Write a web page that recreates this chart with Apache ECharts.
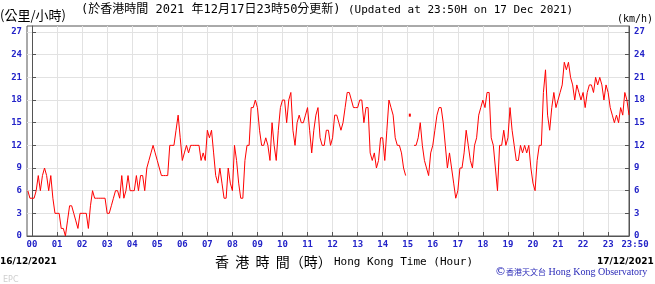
<!DOCTYPE html>
<html><head><meta charset="utf-8">
<script src="https://cdn.jsdelivr.net/npm/echarts@6/dist/echarts.min.js"></script>
<style>html,body{margin:0;padding:0;background:#fff}#c{width:655px;height:284px}</style>
</head><body><div id="c"></div>
<script>
// 5-minute wind speed readings (km/h), starting at 23:50 on 16 Dec
const startMinute = -10;
const stepMinutes = 5;
const hPrev = [6, 5];
const h00 = [5,5,6,8,6,8,9,8,6,8,5,3];
const h01 = [3,3,1,1,0,2,4,4,3,2,1,3];
const h02 = [3,3,3,1,4,6,5,5,5,5,5,5];
const h03 = [3,3,4,5,6,6,5,8,5,6,8,6];
const h04 = [6,6,8,6,8,8,6,9,10,11,12,11];
const h05 = [10,9,8,8,8,8,12,12,12,14,16,13];
const h06 = [10,11,12,11,12,12,12,12,12,10,11,10];
const h07 = [14,13,14,11,8,7,9,7,5,5,9,7];
const h08 = [6,12,10,7,5,5,10,12,12,17,17,18];
const h09 = [17,14,12,12,13,12,10,15,12,10,14,17];
const h10 = [18,18,15,18,19,14,12,15,16,15,15,16];
const h11 = [17,14,11,14,16,17,13,12,12,14,14,12];
const h12 = [13,16,16,15,14,15,17,19,19,18,17,17];
const h13 = [17,18,18,15,17,17,11,10,11,9,10,13];
const h14 = [13,10,14,18,17,16,13,12,12,11,9,8];
const h15 = [null,16,null,12,12,13,15,12,10,9,8,11];
const h16 = [12,14,16,17,17,15,12,9,11,9,7,5];
const h17 = [6,9,9,11,14,12,10,9,12,13,16,17];
const h18 = [18,17,19,19,13,12,9,6,12,12,14,12];
const h19 = [13,17,14,12,10,10,12,11,12,11,12,9];
const h20 = [7,6,10,12,12,19,22,16,14,17,19,17];
const h21 = [18,19,20,23,22,23,21,20,18,20,19,18];
const h22 = [19,17,19,20,20,19,21,20,21,20,18,20];
const h23 = [19,17,16,15,16,15,17,16,19,18,16];

const tickHours = [0,1,2,3,4,5,6,7,8,9,10,11,12,13,14,15,16,17,18,19,20,21,22,23,23+50/60];
const tickLabels = ['00','01','02','03','04','05','06','07','08','09','10','11','12','13','14','15','16','17','18','19','20','21','22','23','23:50'];
const yTicks = [0,3,6,9,12,15,18,21,24,27];

const speeds = [].concat(hPrev,h00,h01,h02,h03,h04,h05,h06,h07,h08,h09,h10,h11,h12,h13,h14,h15,h16,h17,h18,h19,h20,h21,h22,h23);
const seriesData = speeds.map((v, i) => {
  const h = (startMinute + i * stepMinutes) / 60;
  const prev = i > 0 ? speeds[i-1] : null;
  const next = i < speeds.length - 1 ? speeds[i+1] : null;
  if (v != null && prev == null && next == null && i > 0) {
    return {value: [h, v], symbol: 'rect', symbolSize: [2, 3], itemStyle: {color: '#ff0000'}};
  }
  return [h, v];
});

const BLUE = '#2323c8';
const AX = '#555';
const labelFor = v => {
  for (let k = 0; k < tickHours.length; k++) {
    if (Math.abs(tickHours[k] - v) < 1e-4) {
      return k === tickHours.length - 1 ? '{last|' + tickLabels[k] + '}' : tickLabels[k];
    }
  }
  return '';
};

const chart = echarts.init(document.getElementById('c'), null, {renderer: 'canvas'});
const yCommon = {
  type: 'value', min: 0, max: 27.8,
  axisLine: {show: true, lineStyle: {color: AX}},
  axisTick: {show: true, inside: true, length: 4, customValues: yTicks, lineStyle: {color: AX}},
  axisLabel: {customValues: yTicks, color: BLUE, fontFamily: 'DejaVu Sans Mono', fontWeight: 'bold', fontSize: 9, margin: 5}
};
chart.setOption({
  animation: false,
  grid: {left: 27, right: 26, top: 26, bottom: 48, show: true, borderColor: AX, borderWidth: 1},
  xAxis: {
    type: 'value', min: -0.2, max: 23 + 50/60,
    axisLine: {show: true, onZero: false, lineStyle: {color: AX}},
    axisTick: {show: true, inside: true, length: 4, customValues: tickHours, lineStyle: {color: AX}},
    axisLabel: {customValues: tickHours, formatter: labelFor, color: BLUE, fontFamily: 'DejaVu Sans Mono', fontWeight: 'bold', fontSize: 9, margin: 4,
      rich: {last: {color: BLUE, fontFamily: 'DejaVu Sans Mono', fontWeight: 'bold', fontSize: 9, padding: [0, 0, 0, 12]}}},
    splitLine: {show: true, lineStyle: {color: '#e2e2e2'}}
  },
  yAxis: [
    Object.assign({}, yCommon, {position: 'left', splitLine: {show: true, lineStyle: {color: '#e2e2e2'}}}),
    Object.assign({}, yCommon, {position: 'right', splitLine: {show: false}})
  ],
  series: [{
    type: 'line', data: seriesData, showSymbol: true, symbol: 'none', connectNulls: false,
    lineStyle: {color: '#ff0000', width: 1}, itemStyle: {color: '#ff0000'},
    silent: true, z: 5
  }],
  graphic: [
    {type: 'text', x: 0, y: 15, style: {text: '(公里/小時)', font: '13px "Noto Sans CJK TC"', fill: '#000', verticalAlign: 'middle'}},
    {type: 'text', x: 81, y: 10, style: {text: '(於香港時間 2021 年12月17日23時50分更新)', font: '12px "DejaVu Sans Mono","Noto Sans CJK TC"', fill: '#000', verticalAlign: 'middle'}},
    {type: 'text', x: 348, y: 10, style: {text: '(Updated at 23:50H on 17 Dec 2021)', font: '11px "DejaVu Sans Mono"', fill: '#000', verticalAlign: 'middle'}},
    {type: 'text', x: 617, y: 19, style: {text: '(km/h)', font: '10px "DejaVu Sans Mono"', fill: '#000', verticalAlign: 'middle'}},
    {type: 'text', x: 0, y: 262, style: {text: '16/12/2021', font: 'bold 9px "DejaVu Sans"', fill: '#000', verticalAlign: 'middle'}},
    {type: 'text', x: 597, y: 262, style: {text: '17/12/2021', font: 'bold 9px "DejaVu Sans"', fill: '#000', verticalAlign: 'middle'}},
    {type: 'text', x: 215, y: 262, style: {text: '香  港  時  間（時）', font: '14px "Noto Sans CJK TC"', fill: '#000', verticalAlign: 'middle'}},
    {type: 'text', x: 334, y: 262, style: {text: 'Hong Kong Time (Hour)', font: '11px "DejaVu Sans Mono"', fill: '#000', verticalAlign: 'middle'}},
    {type: 'text', x: 3, y: 280, style: {text: 'EPC', font: '8px "DejaVu Sans"', fill: '#cfcfcf', verticalAlign: 'middle'}},
    {type: 'text', x: 495, y: 272, style: {text: '{c|©}{z|香港天文台}{e| Hong Kong Observatory}', verticalAlign: 'middle', fill: '#2a2ab8',
      rich: {c: {font: '11px "DejaVu Sans"', fill: '#2a2ab8'}, z: {font: '8px "Noto Sans CJK TC"', fill: '#2a2ab8'}, e: {font: '10px "Liberation Serif"', fill: '#2a2ab8'}}}}
  ]
});
</script></body></html>
